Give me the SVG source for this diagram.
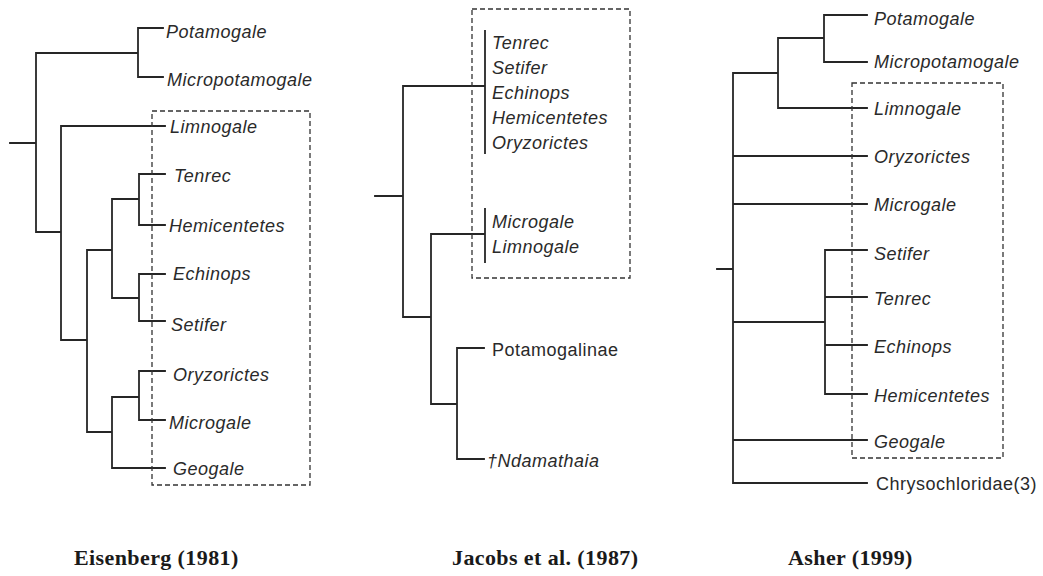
<svg xmlns="http://www.w3.org/2000/svg" width="1043" height="576" viewBox="0 0 1043 576">
<style>
.e{stroke:#262626;stroke-width:1.8;fill:none;stroke-linecap:square}
.box{stroke:#333;stroke-width:1.3;fill:none;stroke-dasharray:5 3}
.t{font-family:"Liberation Sans",Arial,sans-serif;font-size:18px;font-style:italic;fill:#2a2a2a;letter-spacing:0.5px}
.u{font-family:"Liberation Sans",Arial,sans-serif;font-size:18px;fill:#2a2a2a;letter-spacing:0.5px}
.h{font-family:"Liberation Serif","Times New Roman",serif;font-size:22px;font-weight:bold;fill:#1a1a1a;letter-spacing:0.4px}
</style>
<rect width="1043" height="576" fill="#fff"/>
<g id="connectors">
<!-- Eisenberg -->
<path class="e" d="M10 143H36M36 53V232M36 53H138M138 28V77M138 28H163M138 77H163M36 232H61M61 126V340M61 126H165M61 340H87M87 250V432M87 250H112M112 199V298M112 199H139M139 174V225M139 174H165M139 225H165M112 298H139M139 274V321M139 274H165M139 321H165M87 432H112M112 397V468M112 397H139M139 371V420M139 371H165M139 420H165M112 468H165"/>
<!-- Jacobs -->
<path class="e" d="M375 196H403M403 86V317M403 86H485M485 31V153M403 317H431M431 234V404M431 234H485M485 209V262M431 404H457M457 348V459M457 348H484M457 459H484"/>
<!-- Asher -->
<path class="e" d="M717 269H733M733 73V483M733 73H778M778 38V108M778 38H824M824 15V62M824 15H867M824 62H867M778 108H867M733 156H867M733 204H867M733 322H825M825 250V394M825 250H867M825 297H867M825 345H867M825 394H867M733 440H867M733 483H867"/>
</g>
<g id="boxes">
<rect id="box-eisenberg" class="box" x="152" y="111" width="158" height="374"/>
<rect id="box-jacobs" class="box" x="472" y="9" width="158" height="269"/>
<rect id="box-asher" class="box" x="852" y="83" width="151" height="375"/>
</g>
<g id="tree-eisenberg">
<g id="e-potamogale"><text class="t" x="166" y="38">Potamogale</text></g>
<g id="e-micropotamogale"><text class="t" x="167" y="86">Micropotamogale</text></g>
<g id="e-limnogale"><text class="t" x="170" y="133">Limnogale</text></g>
<g id="e-tenrec"><text class="t" x="174" y="182">Tenrec</text></g>
<g id="e-hemicentetes"><text class="t" x="169" y="232">Hemicentetes</text></g>
<g id="e-echinops"><text class="t" x="173" y="280">Echinops</text></g>
<g id="e-setifer"><text class="t" x="171" y="331">Setifer</text></g>
<g id="e-oryzorictes"><text class="t" x="173" y="381">Oryzorictes</text></g>
<g id="e-microgale"><text class="t" x="169" y="429">Microgale</text></g>
<g id="e-geogale"><text class="t" x="173" y="475">Geogale</text></g>
</g>
<g id="tree-jacobs">
<g id="j-tenrec"><text class="t" x="492" y="49">Tenrec</text></g>
<g id="j-setifer"><text class="t" x="492" y="74">Setifer</text></g>
<g id="j-echinops"><text class="t" x="492" y="99">Echinops</text></g>
<g id="j-hemicentetes"><text class="t" x="492" y="124">Hemicentetes</text></g>
<g id="j-oryzorictes"><text class="t" x="492" y="149">Oryzorictes</text></g>
<g id="j-microgale"><text class="t" x="492" y="228">Microgale</text></g>
<g id="j-limnogale"><text class="t" x="492" y="253">Limnogale</text></g>
<g id="j-potamogalinae"><text class="u" x="492" y="356">Potamogalinae</text></g>
<g id="j-ndamathaia"><text class="t" x="487" y="467">†Ndamathaia</text></g>
</g>
<g id="tree-asher">
<g id="a-potamogale"><text class="t" x="874" y="25">Potamogale</text></g>
<g id="a-micropotamogale"><text class="t" x="874" y="68">Micropotamogale</text></g>
<g id="a-limnogale"><text class="t" x="874" y="115">Limnogale</text></g>
<g id="a-oryzorictes"><text class="t" x="874" y="163">Oryzorictes</text></g>
<g id="a-microgale"><text class="t" x="874" y="211">Microgale</text></g>
<g id="a-setifer"><text class="t" x="874" y="260">Setifer</text></g>
<g id="a-tenrec"><text class="t" x="874" y="305">Tenrec</text></g>
<g id="a-echinops"><text class="t" x="874" y="353">Echinops</text></g>
<g id="a-hemicentetes"><text class="t" x="874" y="402">Hemicentetes</text></g>
<g id="a-geogale"><text class="t" x="874" y="448">Geogale</text></g>
<g id="a-chrysochloridae"><text class="u" x="876" y="490">Chrysochloridae(3)</text></g>
</g>
<g id="titles">
<text class="h" x="74" y="565">Eisenberg (1981)</text>
<text class="h" x="452" y="565">Jacobs et al. (1987)</text>
<text class="h" x="788" y="565">Asher (1999)</text>
</g>
</svg>
